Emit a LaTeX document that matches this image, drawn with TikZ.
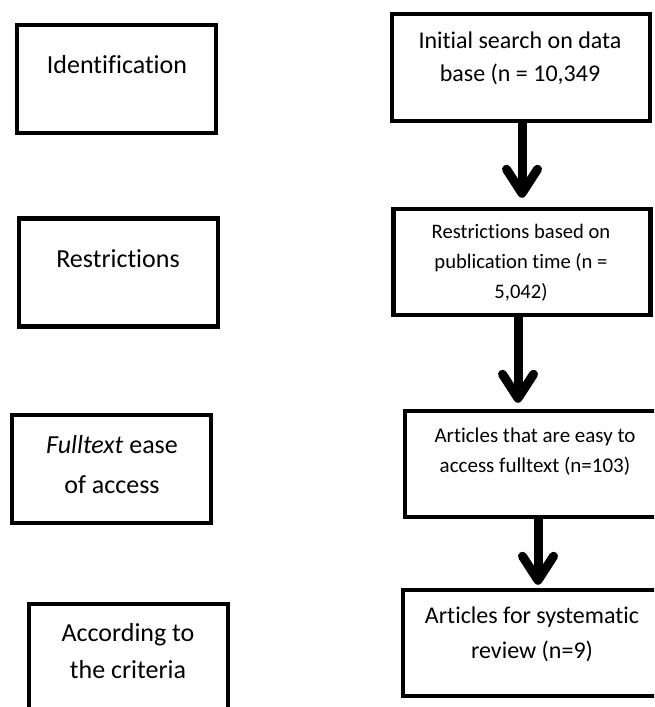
\documentclass[tikz,border=0pt]{standalone}
\usepackage{fontspec}
\setmainfont{Carlito}[Ligatures=NoCommon]
\usetikzlibrary{arrows.meta}
\tikzset{
  box/.style={draw=black, line width=4.5pt, rectangle, fill=white, inner sep=0pt},
  lbox/.style={box, minimum width=199pt, minimum height=108pt},
  rbox/.style={box, minimum width=257pt, minimum height=106pt},
  txt/.style={align=center, inner sep=0pt, text=black},
  ltxt/.style={txt, font=\fontsize{26}{37}\selectfont},
  flowarrow/.style={line width=9pt, -{Straight Barb[length=24pt, width=31pt, round]}}
}
\begin{document}
\begin{tikzpicture}[x=1pt, y=-1pt]
\clip (0,0) rectangle (654,707);
\fill[white] (0,0) rectangle (654,707);
% left column
\node[lbox] (l1) at (116.5,79) {};
\node[ltxt] (lt1) at (117,65) {Identification};
\node[lbox] (l2) at (118.5,272.5) {};
\node[ltxt] (lt2) at (118,259) {Restrictions};
\node[lbox] (l3) at (111.5,469) {};
\node[txt, font=\fontsize{26}{40}\selectfont] (lt3) at (112,465) {\textit{Fulltext} ease\\of access};
\node[lbox] (l4) at (128.5,658) {};
\node[ltxt] (lt4) at (128,651.5) {According to\\the criteria};
% right column
\node[rbox, minimum width=258pt, minimum height=107pt] (r1) at (521,67.5) {};
\node[txt, font=\fontsize{24}{33}\selectfont] (rt1) at (520,58.5) {Initial search on data\\base (n = 10,349};
\node[rbox] (r2) at (522,262) {};
\node[txt, font=\fontsize{20.6}{30}\selectfont] (rt2) at (521,263) {Restrictions based on\\publication time (n =\\5,042)};
\node[rbox, minimum width=260pt] (r3) at (535,464) {};
\node[txt, font=\fontsize{21}{30}\selectfont] (rt3) at (535,452) {Articles that are easy to\\access fulltext (n=103)};
\node[rbox, minimum width=258pt] (r4) at (532,643) {};
\node[txt, font=\fontsize{24}{35}\selectfont] (rt4) at (532,634.5) {Articles for systematic\\review (n=9)};
% connectors
\draw[flowarrow, shorten >=9pt] ([xshift=1pt]r1.south) -- ([xshift=0pt]r2.north);
\draw[flowarrow, shorten >=6pt] ([xshift=-4pt]r2.south) -- ([xshift=-17pt]r3.north);
\draw[flowarrow, shorten >=3pt] ([xshift=3pt]r3.south) -- ([xshift=6pt]r4.north);
\end{tikzpicture}
\end{document}
